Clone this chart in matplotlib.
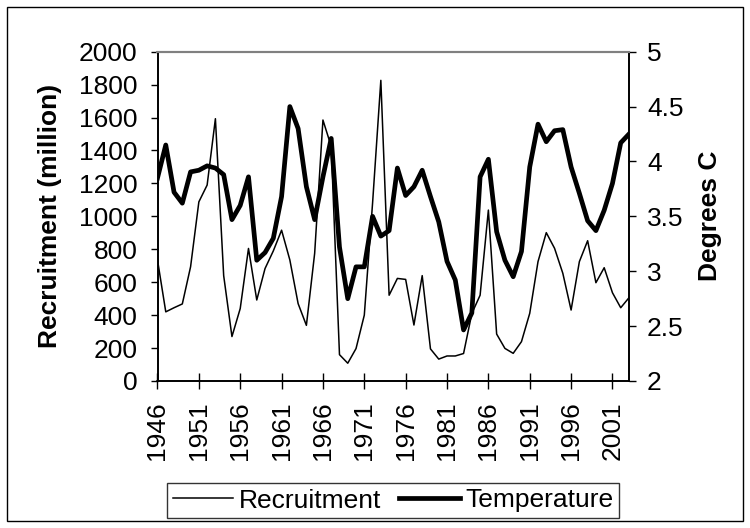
import matplotlib
matplotlib.use("Agg")
import matplotlib.pyplot as plt
from matplotlib.patches import Rectangle
from matplotlib.lines import Line2D

years = list(range(1946, 2004))
recruitment = [735, 420, 445, 468, 694, 1088, 1190, 1593, 640, 270,
               440, 805, 492, 683, 790, 916, 735, 470, 338, 776,
               1585, 1425, 160, 108, 197, 400, 1080, 1826, 521, 623,
               617, 340, 640, 195, 133, 152, 152, 167, 410, 521,
               1038, 285, 198, 168, 239, 411, 725, 901, 806, 654,
               431, 725, 852, 597, 688, 536, 445, 506]
temperature = [3.85, 4.15, 3.72, 3.62, 3.905, 3.92, 3.96, 3.94, 3.88, 3.47,
               3.60, 3.86, 3.10, 3.17, 3.30, 3.68, 4.50, 4.30, 3.77, 3.47,
               3.86, 4.21, 3.22, 2.75, 3.04, 3.04, 3.50, 3.32, 3.37, 3.94,
               3.69, 3.77, 3.92, 3.68, 3.45, 3.09, 2.92, 2.465, 2.62, 3.86,
               4.02, 3.36, 3.10, 2.95, 3.18, 3.95, 4.34, 4.18, 4.28, 4.29,
               3.95, 3.71, 3.46, 3.37, 3.555, 3.80, 4.17, 4.25]
xtick_years = list(range(1946, 2004, 5))
left_ticks = list(range(0, 2001, 200))
right_ticks = [2, 2.5, 3, 3.5, 4, 4.5, 5]
right_ticklabels = ["2", "2.5", "3", "3.5", "4", "4.5", "5"]

plt.rcParams['font.family'] = ['Liberation Sans', 'DejaVu Sans']
FS = 19

W, H = 750, 528
fig = plt.figure(figsize=(W / 100, H / 100), dpi=100)

x0, x1 = 157.5, 629
y_top, y_bot = 51.7, 381
ax = fig.add_axes([x0 / W, 1 - y_bot / H, (x1 - x0) / W, (y_bot - y_top) / H])
ax2 = ax.twinx()

ax.plot(years, recruitment, color='black', lw=1.1, zorder=3)
ax2.plot(years, temperature, color='black', lw=3.4, zorder=3)

ax.set_xlim(1946, 2003)
ax.set_ylim(0, 2000)
ax2.set_ylim(2, 5)

ax.set_xticks(xtick_years)
ax.set_xticklabels([str(y) for y in xtick_years], rotation=90, fontsize=FS)
ax.set_yticks(left_ticks)
ax.set_yticklabels([str(v) for v in left_ticks], fontsize=FS)
ax2.set_yticks(right_ticks)
ax2.set_yticklabels(right_ticklabels, fontsize=FS)

ax.tick_params(axis='y', direction='out', length=5, width=1, pad=9.5)
ax.tick_params(axis='x', direction='inout', length=11, width=1, pad=9)
ax2.tick_params(axis='y', direction='out', length=5, width=1, pad=8)

for a in (ax, ax2):
    a.spines['top'].set_color('#808080')
    a.spines['top'].set_linewidth(1.5)
    for s in ('left', 'right', 'bottom'):
        a.spines[s].set_color('black')
        a.spines[s].set_linewidth(1.2)

fig.text(50 / W, 1 - 216 / H, "Recruitment (million)", rotation=90,
         ha='center', va='center', fontsize=FS, fontweight='bold')
fig.text(710 / W, 1 - 216 / H, "Degrees C", rotation=90,
         ha='center', va='center', fontsize=FS, fontweight='bold')

handles = [Line2D([], [], color='black', lw=1.1),
           Line2D([], [], color='black', lw=3.4)]
leg = fig.legend(handles, ["Recruitment", "Temperature"], loc='center',
                 bbox_to_anchor=(393 / W, 1 - 500.5 / H), ncol=2,
                 fontsize=FS, frameon=True, fancybox=False, edgecolor='black',
                 handlelength=2.3, handletextpad=0.2, columnspacing=0.7,
                 borderpad=0.2, borderaxespad=0)
leg.get_frame().set_linewidth(1.0)

fig.patches.append(Rectangle((7 / W, 7 / H), 736 / W, 514 / H,
                             transform=fig.transFigure, fill=False,
                             edgecolor='black', lw=1.0))

fig.savefig("out.png", dpi=100)
